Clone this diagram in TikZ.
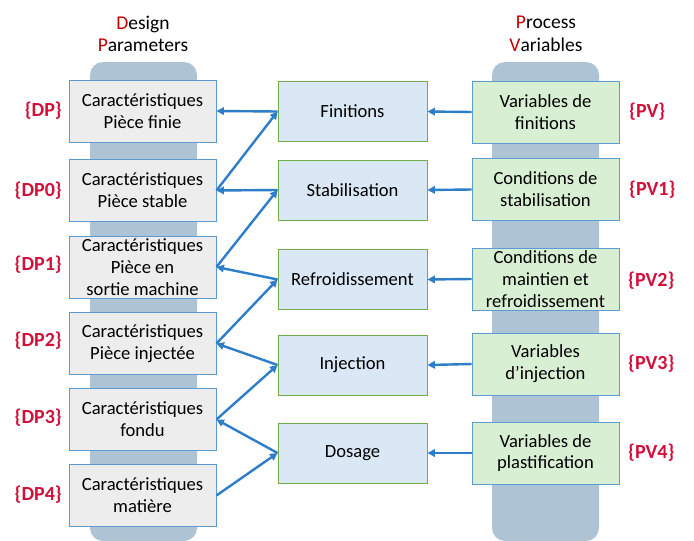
\documentclass[tikz,border=0pt]{standalone}
\usepackage{fontspec}
\setmainfont{Carlito}
\usetikzlibrary{arrows.meta}
\definecolor{colgray}{RGB}{174,196,212}
\definecolor{dpfill}{RGB}{237,237,237}
\definecolor{midfill}{RGB}{218,232,245}
\definecolor{pvfill}{RGB}{217,239,211}
\definecolor{bblue}{RGB}{91,155,213}
\definecolor{bgreen}{RGB}{112,173,71}
\definecolor{arr}{RGB}{46,125,200}
\definecolor{lab}{RGB}{210,16,58}
\definecolor{hred}{RGB}{192,0,0}
\tikzset{
  dpbox/.style={draw=bblue, fill=dpfill, line width=0.9pt, minimum width=147pt, minimum height=62pt, align=center, font=\fontsize{18.6}{21.8}\selectfont, inner sep=0pt},
  midbox/.style={draw=bgreen, fill=midfill, line width=0.9pt, minimum width=149pt, minimum height=60pt, align=center, font=\fontsize{18.6}{21.8}\selectfont, inner sep=0pt},
  pvbox/.style={draw=bblue, fill=pvfill, line width=0.9pt, minimum width=147pt, minimum height=62pt, align=center, font=\fontsize{18.6}{21.8}\selectfont, inner sep=0pt},
  lbl/.style={text=lab, font=\fontsize{20}{22}\selectfont\bfseries, inner sep=0pt},
  hdr/.style={align=center, font=\fontsize{19.5}{22.5}\selectfont, inner sep=0pt},
  conn/.style={draw=arr, line width=2.4pt, -{Triangle[length=7.5pt,width=7.5pt]}},
}
\begin{document}
\begin{tikzpicture}[x=1pt,y=-1pt]
\useasboundingbox (0,0) rectangle (694,541);
% columns
\fill[colgray, rounded corners=13pt] (90,62) rectangle (197,541);
\fill[colgray, rounded corners=13pt] (492,62) rectangle (599,541);
% headers
\node[hdr] (hdp) at (143,34) {\textcolor{hred}{D}esign\\\textcolor{hred}{P}arameters};
\node[hdr] (hpv) at (546,34) {\textcolor{hred}{P}rocess\\\textcolor{hred}{V}ariables};
% DP boxes
\node[dpbox] (dp)  at (142.5,111)   {Caractéristiques\\Pièce finie};
\node[dpbox] (dp0) at (142.5,190.5) {Caractéristiques\\Pièce stable};
\node[dpbox] (dp1) at (142.5,267)   {Caractéristiques\\Pièce en\\sortie machine};
\node[dpbox] (dp2) at (142.5,343.5) {Caractéristiques\\Pièce injectée};
\node[dpbox] (dp3) at (142.5,419.5) {Caractéristiques\\fondu};
\node[dpbox] (dp4) at (142.5,495.5) {Caractéristiques\\matière};
% middle boxes
\node[midbox] (m0) at (352.5,111.5) {Finitions};
\node[midbox] (m1) at (352.5,190)   {Stabilisation};
\node[midbox] (m2) at (352.5,279.5) {Refroidissement};
\node[midbox] (m3) at (352.5,365)   {Injection};
\node[midbox] (m4) at (352.5,453)   {Dosage};
% PV boxes
\node[pvbox] (pv)  at (545.5,112)   {Variables de\\finitions};
\node[pvbox] (pv1) at (545.5,189.5) {Conditions de\\stabilisation};
\node[pvbox] (pv2) at (545.5,279)   {Conditions de\\maintien et\\refroidissement};
\node[pvbox] (pv3) at (545.5,364)   {Variables\\d’injection};
\node[pvbox] (pv4) at (545.5,453)   {Variables de\\plastification};
% labels
\node[lbl, anchor=east] (ldp)  at (62,111)   {\{DP\}};
\node[lbl, anchor=east] (ldp0) at (62,190.5) {\{DP0\}};
\node[lbl, anchor=east] (ldp1) at (62,265)   {\{DP1\}};
\node[lbl, anchor=east] (ldp2) at (62,341)   {\{DP2\}};
\node[lbl, anchor=east] (ldp3) at (62,418)   {\{DP3\}};
\node[lbl, anchor=east] (ldp4) at (62,495)   {\{DP4\}};
\node[lbl, anchor=west] (lpv)  at (629,112)   {\{PV\}};
\node[lbl, anchor=west] (lpv1) at (629,189.5) {\{PV1\}};
\node[lbl, anchor=west] (lpv2) at (628,281)   {\{PV2\}};
\node[lbl, anchor=west] (lpv3) at (628,364)   {\{PV3\}};
\node[lbl, anchor=west] (lpv4) at (628,453)   {\{PV4\}};
% connectors PV -> middle
\draw[conn] (pv.west)  -- (m0.east);
\draw[conn] (pv1.west) -- (m1.east);
\draw[conn] (pv2.west) -- (m2.east);
\draw[conn] (pv3.west) -- (m3.east);
\draw[conn] (pv4.west) -- (m4.east);
% middle -> DP
\draw[conn] (m0.west) -- (dp.east);
\draw[conn] (m1.west) -- (dp0.east);
\draw[conn] (m2.west) -- (dp1.east);
\draw[conn] (m3.west) -- (dp2.east);
\draw[conn] (m4.west) -- (dp3.east);
% DP -> middle
\draw[conn] (dp0.east) -- (m0.west);
\draw[conn] (dp1.east) -- (m1.west);
\draw[conn] (dp2.east) -- (m2.west);
\draw[conn] (dp3.east) -- (m3.west);
\draw[conn] (dp4.east) -- (m4.west);
\end{tikzpicture}
\end{document}
